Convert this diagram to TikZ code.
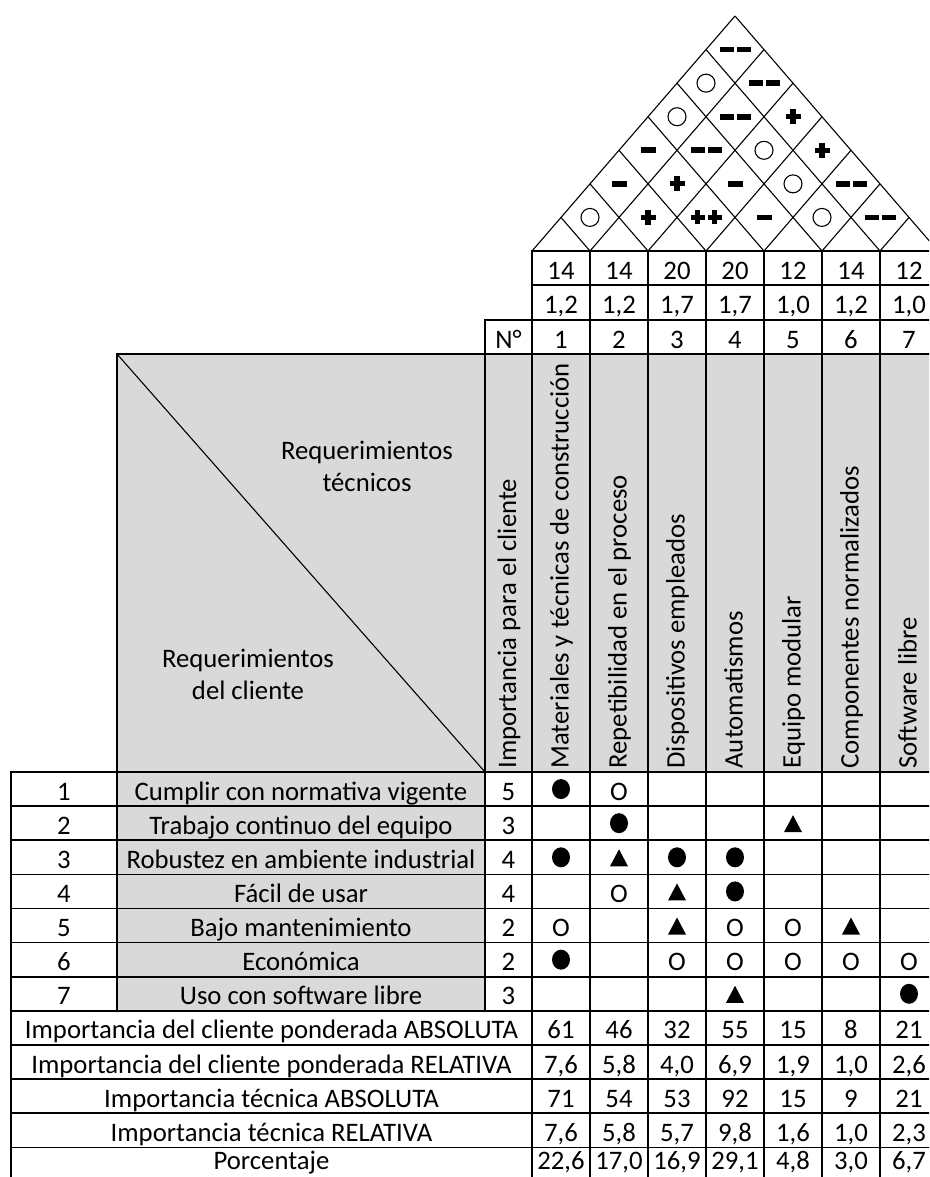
\documentclass[tikz,border=0pt]{standalone}
\usepackage{fontspec}
\setmainfont{Carlito}
\definecolor{cellgrey}{HTML}{D9D9D9}

\begin{document}
\begin{tikzpicture}[x=1pt, y=-1pt, font=\fontsize{26.7}{32}\selectfont,
		rule/.style={line width=1.6pt, line cap=rect},
		fine/.style={line width=1.1pt},
		cell/.style={text height=22pt, text depth=0pt},
		lastcell/.style={text height=22pt, text depth=0pt, inner sep=0pt},
		vert/.style={rotate=90, anchor=west, text height=15pt, text depth=0pt},
		ccir/.pic={\draw[line width=1.1pt] (0,0) circle (9);},
		cmin/.pic={\fill (-7.5,-2.8) rectangle (7.5,2.8);},
		cmm/.pic={\fill (-15.5,-2.8) rectangle (-1.5,2.8); \fill (1.5,-2.8) rectangle (15.5,2.8);},
		cpl/.pic={\fill (-7.5,-2.6) rectangle (7.5,2.6); \fill (-2.6,-7.5) rectangle (2.6,7.5);},
		cpp/.pic={\foreach \dx in {-8.5,8.5} {\fill (\dx-7,-2.6) rectangle (\dx+7,2.6); \fill (\dx-2.6,-7) rectangle (\dx+2.6,7);}},
		mdot/.pic={\fill (0,0) ellipse (9 and 10);},
		mtri/.pic={\fill (-9,9) -- (9,9) -- (0,-8) -- cycle;},
		mo/.pic={\node[inner sep=0] (-o) at (0,2.5) {O};}]
		\useasboundingbox (0,0) rectangle (929,1177);
		\clip (0,0) rectangle (929,1177);
		%\draw[help lines, step=50] (0,0) grid (929,1177);
		
		\fill[cellgrey] (117,354) rectangle (938,772);
		\fill[cellgrey] (117,772) rectangle (485,1011);
		
		% roof
		\foreach \i in {0,...,7} {
			\draw[fine] (532+58*\i,251) -- ++({29*(7-\i)},{-33.57*(7-\i)});
			\draw[fine] (532+58*\i,251) -- ++({-29*\i},{-33.57*\i});
		}
		\foreach \r/\j/\s in {1/1/ccir, 1/2/cpl, 1/3/cpp, 1/4/cmin, 1/5/ccir, 1/6/cmm,
			2/1/cmin, 2/2/cpl, 2/3/cmin, 2/4/ccir, 2/5/cmm,
			3/1/cmin, 3/2/cmm, 3/3/ccir, 3/4/cpl,
			4/1/ccir, 4/2/cmm, 4/3/cpl,
			5/1/ccir, 5/2/cmm,
			6/1/cmm}
		\pic (k\r\j) at ({532+58*\j+29*(\r-1)},{251-33.57*\r}) {\s};
		
		% table rules
		\draw[rule] (532,251) -- (938,251);
		\draw[rule] (532,285) -- (938,285);
		\draw[rule] (485,320) -- (938,320);
		\draw[rule] (117,354) -- (938,354);
		\foreach \r in {0,...,12}
		\draw[rule] (11,{772+34.12*\r}) -- (938,{772+34.12*\r});
		\draw[rule] (11,772) -- (11,1190);
		\draw[rule] (117,354) -- (117,1010.8);
		\draw[rule] (485,320) -- (485,1010.8);
		\foreach \j in {0,...,7}
		\draw[rule] (532+58*\j,251) -- (532+58*\j,1190);
		\draw[fine] (117,354) -- (485,772);
		
		\node[align=center] (tecnicos) at (367,466) {Requerimientos\\técnicos};
		\node[align=center] (clientes) at (248,674) {Requerimientos\\del cliente};
		\node[cell] (numero) at (508.5,337) {N°};
		\node[vert] (imp) at (508.5,772) {Importancia para el cliente};
		
		\foreach \j/\w/\f/\s in {1/14/{1,2}/Materiales y técnicas de construcción,
			2/14/{1,2}/Repetibilidad en el proceso, 3/20/{1,7}/Dispositivos empleados,
			4/20/{1,7}/Automatismos, 5/12/{1,0}/Equipo modular,
			6/14/{1,2}/Componentes normalizados, 7/12/{1,0}/Software libre} {
			\node[cell] (w\j) at (503+58*\j,268) {\w};
			\node[cell] (f\j) at (503+58*\j,302.5) {\f};
			\node[cell] (n\j) at (503+58*\j,337) {\j};
			\node[vert] (h\j) at (503+58*\j,772) {\s};
		}
		
		\foreach \r/\s/\v in {1/Cumplir con normativa vigente/5, 2/Trabajo continuo del equipo/3,
			3/Robustez en ambiente industrial/4, 4/Fácil de usar/4, 5/Bajo mantenimiento/2,
			6/Económica/2, 7/Uso con software libre/3} {
			\node[cell] (i\r) at (64,{772+34.12*(\r-0.5)}) {\r};
			\node[cell] (req\r) at (301,{772+34.12*(\r-0.5)}) {\s};
			\node[cell] (v\r) at (508.5,{772+34.12*(\r-0.5)}) {\v};
		}
		
		\foreach \r/\j/\s in {1/1/mdot, 1/2/mo, 2/2/mdot, 2/5/mtri,
			3/1/mdot, 3/2/mtri, 3/3/mdot, 3/4/mdot, 4/2/mo, 4/3/mtri, 4/4/mdot,
			5/1/mo, 5/3/mtri, 5/4/mo, 5/5/mo, 5/6/mtri,
			6/1/mdot, 6/3/mo, 6/4/mo, 6/5/mo, 6/6/mo, 6/7/mo,
			7/4/mtri, 7/7/mdot}
		\pic (m\r\j) at (503+58*\j,{772+34.12*(\r-0.5)}) {\s};
		
		\foreach \k/\s in {8/Importancia del cliente ponderada ABSOLUTA,
			9/Importancia del cliente ponderada RELATIVA, 10/Importancia técnica ABSOLUTA,
			11/Importancia técnica RELATIVA}
		\node[cell] (lab\k) at (271.5,{772+34.12*(\k-0.5)}) {\s};
		\node[lastcell] (lab12) at (271.5,1158.5) {Porcentaje};
		
		\foreach \j/\ca/\cr/\ta/\tr/\pc in {1/61/{7,6}/71/{7,6}/{22,6}, 2/46/{5,8}/54/{5,8}/{17,0},
			3/32/{4,0}/53/{5,7}/{16,9}, 4/55/{6,9}/92/{9,8}/{29,1}, 5/15/{1,9}/15/{1,6}/{4,8},
			6/8/{1,0}/9/{1,0}/{3,0}, 7/21/{2,6}/21/{2,3}/{6,7}} {
			\node[cell] (ca\j) at (503+58*\j,{772+34.12*7.5}) {\ca};
			\node[cell] (cr\j) at (503+58*\j,{772+34.12*8.5}) {\cr};
			\node[cell] (ta\j) at (503+58*\j,{772+34.12*9.5}) {\ta};
			\node[cell] (tr\j) at (503+58*\j,{772+34.12*10.5}) {\tr};
			\node[lastcell] (pc\j) at (503+58*\j,1158.5) {\pc};
		}
		
	\end{tikzpicture}
\end{document}
